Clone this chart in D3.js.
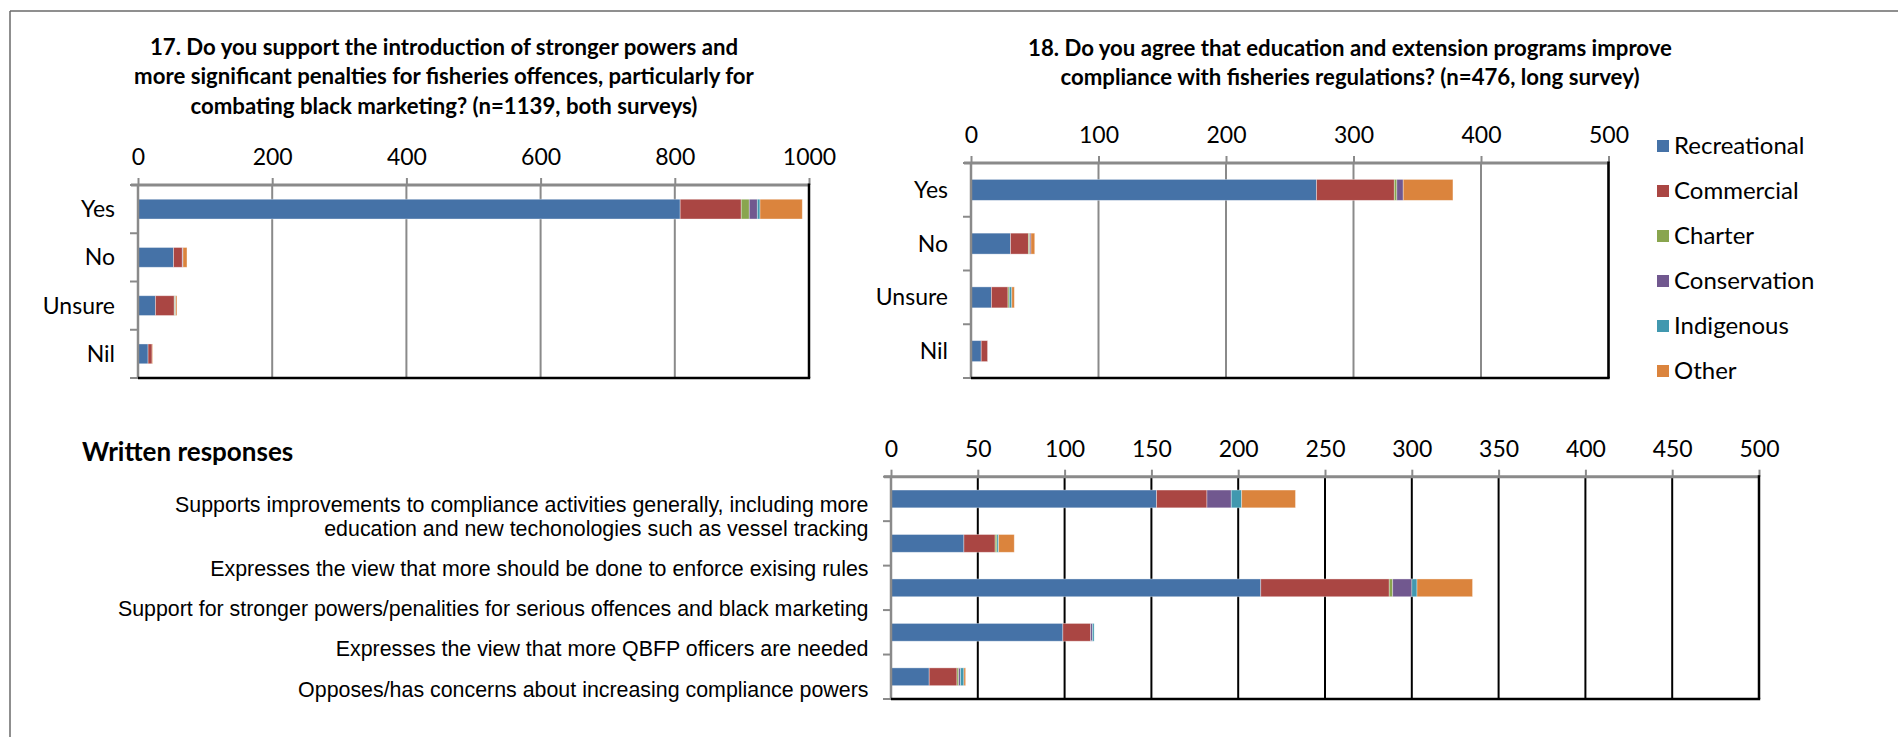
<!DOCTYPE html>
<html>
<head>
<meta charset="utf-8">
<script src="https://cdn.jsdelivr.net/npm/d3@7"></script>
<style>
  html, body { margin: 0; padding: 0; background: #ffffff; }
  svg { display: block; }
</style>
</head>
<body>
<svg id="chart" width="1898" height="737"></svg>
<script>
// ---- Series shared by all three panels ----
const seriesNames  = ["Recreational", "Commercial", "Charter", "Conservation", "Indigenous", "Other"];
const seriesColors = ["#4572A7", "#AA4643", "#89A54E", "#71588F", "#4198AF", "#DB843D"];

// ---- Q17: stronger powers and penalties (n=1139, both surveys) ----
const q17Title = [
  "17. Do you support the introduction of stronger powers and",
  "more significant penalties for fisheries offences, particularly for",
  "combating black marketing? (n=1139, both surveys)"
];
const q17Categories   = ["Yes", "No", "Unsure", "Nil"];
const q17Recreational = [808, 53, 26, 15];
const q17Commercial   = [91, 13, 28, 6];
const q17Charter      = [12, 0, 1, 0];
const q17Conservation = [12, 1, 0, 0];
const q17Indigenous   = [4, 0, 1, 0];
const q17Other        = [63, 6, 2, 1];
const q17Ticks        = [0, 200, 400, 600, 800, 1000];

// ---- Q18: education and extension programs (n=476, long survey) ----
const q18Title = [
  "18. Do you agree that education and extension programs improve",
  "compliance with fisheries regulations? (n=476, long survey)"
];
const q18Categories   = ["Yes", "No", "Unsure", "Nil"];
const q18Recreational = [271, 31, 16, 8];
const q18Commercial   = [61, 14, 13, 5];
const q18Charter      = [2, 1, 1, 0];
const q18Conservation = [5, 1, 0, 0];
const q18Indigenous   = [0, 0, 2, 0];
const q18Other        = [39, 3, 2, 0];
const q18Ticks        = [0, 100, 200, 300, 400, 500];

// ---- Written responses ----
const writtenHeading = "Written responses";
const writtenCategories = [
  ["Supports improvements to compliance activities generally, including more",
   "education and new techonologies such as vessel tracking"],
  ["Expresses the view that more should be done to enforce exising rules"],
  ["Support for stronger powers/penalities for serious offences and black marketing"],
  ["Expresses the view that more QBFP officers are needed"],
  ["Opposes/has concerns about increasing compliance powers"]
];
const writtenRecreational = [153, 42, 213, 99, 22];
const writtenCommercial   = [29, 18, 74, 16, 16];
const writtenCharter      = [0, 1, 2, 0, 1];
const writtenConservation = [14, 0, 11, 1, 1];
const writtenIndigenous   = [6, 1, 3, 1, 2];
const writtenOther        = [31, 9, 32, 0, 1];
const writtenTicks        = [0, 50, 100, 150, 200, 250, 300, 350, 400, 450, 500];

const svg = d3.select("#chart");
const CAL = "Lato, 'Open Sans', sans-serif";
const ARIAL = "'Liberation Sans', Arial, sans-serif";

// outer frame (top and left edges)
svg.append("line").attr("x1", 10).attr("x2", 1898).attr("y1", 11).attr("y2", 11)
  .attr("stroke", "#6a6a6a").attr("stroke-width", 1.5);
svg.append("line").attr("x1", 10).attr("x2", 10).attr("y1", 11).attr("y2", 737)
  .attr("stroke", "#6a6a6a").attr("stroke-width", 1.5);

function buildRows(keys, cols) {
  return keys.map((k, i) => {
    const row = { key: k };
    seriesNames.forEach((s, j) => { row[s] = cols[j][i]; });
    return row;
  });
}

function drawPanel(cfg) {
  const g = svg.append("g");
  const rows = buildRows(cfg.keys, cfg.cols);
  const x = d3.scaleLinear().domain([0, cfg.max]).range([cfg.x0, cfg.x1]);
  const y = d3.scaleBand().domain(cfg.keys).range([cfg.top, cfg.bottom])
    .paddingInner(cfg.pad).paddingOuter(cfg.pad / 2);
  const step = y.step();

  // vertical gridlines
  g.append("g").selectAll("line").data(cfg.ticks).join("line")
    .attr("x1", d => x(d)).attr("x2", d => x(d))
    .attr("y1", cfg.top).attr("y2", cfg.bottom)
    .attr("stroke", cfg.gridColor).attr("stroke-width", cfg.gridWidth);

  // stacked bars
  const stacked = d3.stack().keys(seriesNames)(rows);
  g.append("g").selectAll("g").data(stacked).join("g")
    .attr("fill", (d, i) => seriesColors[i])
    .selectAll("rect").data(d => d.filter(p => p[1] - p[0] > 0)).join("rect")
    .attr("x", d => x(d[0]))
    .attr("width", d => x(d[1]) - x(d[0]))
    .attr("y", d => y(d.data.key))
    .attr("height", y.bandwidth())
    .attr("stroke", "rgba(255,255,255,0.45)").attr("stroke-width", 0.8);

  // top value axis
  const axis = g.append("g").attr("transform", `translate(0,${cfg.top})`)
    .call(d3.axisTop(x).tickValues(cfg.ticks).tickSize(7).tickPadding(13).tickFormat(d3.format("d")));
  axis.select(".domain").remove();
  axis.selectAll(".tick line").attr("stroke", "#8a8a8a").attr("stroke-width", 2);
  axis.selectAll(".tick text")
    .attr("font-family", CAL).attr("font-size", cfg.tickSize).attr("fill", "#000");
  g.append("line").attr("x1", cfg.x0 - 7).attr("x2", cfg.x1)
    .attr("y1", cfg.top).attr("y2", cfg.top)
    .attr("stroke", "#8a8a8a").attr("stroke-width", 3);

  // category axis (left) with boundary ticks
  g.append("line").attr("x1", cfg.x0).attr("x2", cfg.x0)
    .attr("y1", cfg.top).attr("y2", cfg.bottom + 1)
    .attr("stroke", "#8a8a8a").attr("stroke-width", 2.5);
  const bounds = d3.range(cfg.keys.length + 1).map(i => cfg.top + i * step);
  g.append("g").selectAll("line").data(bounds).join("line")
    .attr("x1", cfg.x0 - 8).attr("x2", cfg.x0)
    .attr("y1", d => d).attr("y2", d => d)
    .attr("stroke", "#8a8a8a").attr("stroke-width", 2);

  // plot border (right and bottom)
  g.append("line").attr("x1", cfg.x0).attr("x2", cfg.x1 + 1.2)
    .attr("y1", cfg.bottom).attr("y2", cfg.bottom)
    .attr("stroke", "#000").attr("stroke-width", 2.5);
  g.append("line").attr("x1", cfg.x1).attr("x2", cfg.x1)
    .attr("y1", cfg.top - 1.5).attr("y2", cfg.bottom)
    .attr("stroke", "#000").attr("stroke-width", 2.5);

  // category labels
  if (cfg.labelX !== undefined) {
    g.append("g").selectAll("text").data(cfg.keys).join("text")
      .attr("x", cfg.labelX)
      .attr("y", d => y(d) + y.bandwidth() / 2)
      .attr("dy", "0.35em")
      .attr("text-anchor", "end")
      .attr("font-family", CAL).attr("font-size", cfg.catSize)
      .text(d => d);
  }
  return { x, y };
}

function drawTitle(lines, cx, y0, lh) {
  svg.append("g").selectAll("text").data(lines).join("text")
    .attr("x", cx).attr("y", (d, i) => y0 + i * lh)
    .attr("dy", "0.35em").attr("text-anchor", "middle")
    .attr("font-family", CAL).attr("font-weight", "bold").attr("font-size", 22.2)
    .text(d => d);
}

// ---- Q17 panel ----
drawTitle(q17Title, 444, 47, 29.5);
drawPanel({
  keys: q17Categories,
  cols: [q17Recreational, q17Commercial, q17Charter, q17Conservation, q17Indigenous, q17Other],
  max: 1000, ticks: q17Ticks,
  x0: 138, x1: 809, top: 185, bottom: 378, pad: 0.59,
  gridColor: "#8a8a8a", gridWidth: 2,
  tickSize: 23, catSize: 23, labelX: 115
});

// ---- Q18 panel ----
drawTitle(q18Title, 1350, 48, 29.5);
drawPanel({
  keys: q18Categories,
  cols: [q18Recreational, q18Commercial, q18Charter, q18Conservation, q18Indigenous, q18Other],
  max: 500, ticks: q18Ticks,
  x0: 971, x1: 1608.5, top: 163, bottom: 378, pad: 0.61,
  gridColor: "#8a8a8a", gridWidth: 2,
  tickSize: 23, catSize: 23, labelX: 948
});

// legend
const legend = svg.append("g").selectAll("g").data(seriesNames).join("g")
  .attr("transform", (d, i) => `translate(1657,${146 + i * 45})`);
legend.append("rect").attr("x", 0).attr("y", -6).attr("width", 12).attr("height", 12)
  .attr("fill", (d, i) => seriesColors[i]);
legend.append("text").attr("x", 17).attr("dy", "0.35em")
  .attr("font-family", CAL).attr("font-size", 24).text(d => d);

// ---- Written responses panel ----
svg.append("text").attr("x", 82).attr("y", 452).attr("dy", "0.35em")
  .attr("font-family", CAL).attr("font-weight", "bold").attr("font-size", 26)
  .text(writtenHeading);

drawPanel({
  keys: writtenCategories.map(d => d.join(" ")),
  cols: [writtenRecreational, writtenCommercial, writtenCharter, writtenConservation, writtenIndigenous, writtenOther],
  max: 500, ticks: writtenTicks,
  x0: 891, x1: 1759, top: 476.7, bottom: 699, pad: 0.6,
  gridColor: "#000", gridWidth: 2,
  tickSize: 23
});

// written-response labels sit in their own text block, right-aligned
const lastLineY = d3.scaleLinear().domain([0, writtenCategories.length - 1]).range([528, 689.2]);
const lineGap = 24;
const labelLines = writtenCategories.flatMap((lines, i) =>
  lines.map((t, j) => ({ t, y: lastLineY(i) - (lines.length - 1 - j) * lineGap })));
const wl = svg.append("g").selectAll("text").data(labelLines).join("text")
  .attr("x", 868.5).attr("y", d => d.y).attr("dy", "0.35em")
  .attr("text-anchor", "end")
  .attr("font-family", ARIAL).attr("font-size", 21.5)
  .text(d => d.t);
// narrow the glyphs so the first line spans the text box width
const squeeze = 693.5 / wl.node().getComputedTextLength();
wl.each(function () {
  const w = this.getComputedTextLength();
  d3.select(this).attr("textLength", w * squeeze).attr("lengthAdjust", "spacingAndGlyphs");
});
</script>
</body>
</html>
